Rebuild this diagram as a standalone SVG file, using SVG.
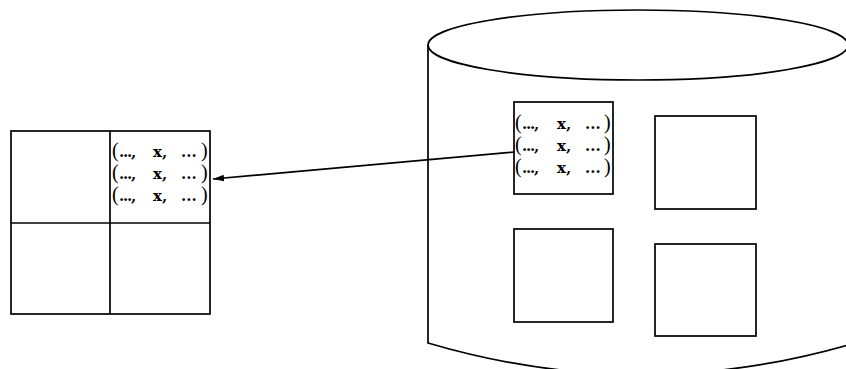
<svg xmlns="http://www.w3.org/2000/svg" width="846" height="369" viewBox="0 0 846 369">
<style>
.ln{fill:none;stroke:#000;stroke-width:1.7}
.bx{fill:#fff;stroke:#000;stroke-width:1.7}
.t{font-family:"DejaVu Serif","Liberation Serif",serif;font-size:15px;font-weight:bold;fill:#000}
.p{font-family:"Liberation Serif","Times New Roman",serif;font-size:20px;font-weight:normal}
.d{letter-spacing:-1.2px}
</style>
<defs>
<marker id="ah" markerWidth="12" markerHeight="8" refX="11" refY="4" orient="auto" markerUnits="userSpaceOnUse">
<path d="M0,0.8 L11,4 L0,7.2 Z" fill="#000"/>
</marker>
</defs>
<rect width="846" height="369" fill="#fff"/>
<g id="cylinder">
<path class="ln" d="M428,45 L428,343 Q638,405 848,345 L848,45"/>
<ellipse class="ln" cx="638" cy="45" rx="210" ry="35"/>
</g>
<g id="grid">
<rect class="bx" x="11" y="131" width="199" height="183"/>
<line class="ln" x1="110" y1="131" x2="110" y2="314"/>
<line class="ln" x1="11" y1="223" x2="210" y2="223"/>
</g>
<g id="grid-text">
<text class="t">
<tspan class="p" x="112" y="157">(</tspan><tspan class="d" x="119" y="157">...,</tspan><tspan x="153" y="157">x,</tspan><tspan x="181" y="157">...</tspan><tspan class="p" x="201" y="157">)</tspan>
<tspan class="p" x="112" y="179">(</tspan><tspan class="d" x="119" y="179">...,</tspan><tspan x="153" y="179">x,</tspan><tspan x="181" y="179">...</tspan><tspan class="p" x="201" y="179">)</tspan>
<tspan class="p" x="112" y="201">(</tspan><tspan class="d" x="119" y="201">...,</tspan><tspan x="153" y="201">x,</tspan><tspan x="181" y="201">...</tspan><tspan class="p" x="201" y="201">)</tspan>
</text>
</g>
<g id="page1">
<rect class="bx" x="514" y="102" width="99" height="92"/>
<text class="t">
<tspan class="p" x="515" y="129">(</tspan><tspan class="d" x="522" y="129">...,</tspan><tspan x="557" y="129">x,</tspan><tspan x="585" y="129">...</tspan><tspan class="p" x="604" y="129">)</tspan>
<tspan class="p" x="515" y="151">(</tspan><tspan class="d" x="522" y="151">...,</tspan><tspan x="557" y="151">x,</tspan><tspan x="585" y="151">...</tspan><tspan class="p" x="604" y="151">)</tspan>
<tspan class="p" x="515" y="173">(</tspan><tspan class="d" x="522" y="173">...,</tspan><tspan x="557" y="173">x,</tspan><tspan x="585" y="173">...</tspan><tspan class="p" x="604" y="173">)</tspan>
</text>
</g>
<g id="page2"><rect class="bx" x="655" y="116" width="101" height="93"/></g>
<g id="page3"><rect class="bx" x="514" y="229" width="99" height="93"/></g>
<g id="page4"><rect class="bx" x="655" y="244" width="101" height="92"/></g>
<g id="connectors">
<line class="ln" x1="514" y1="152" x2="213" y2="179" stroke-width="1.5" marker-end="url(#ah)"/>
</g>
</svg>
